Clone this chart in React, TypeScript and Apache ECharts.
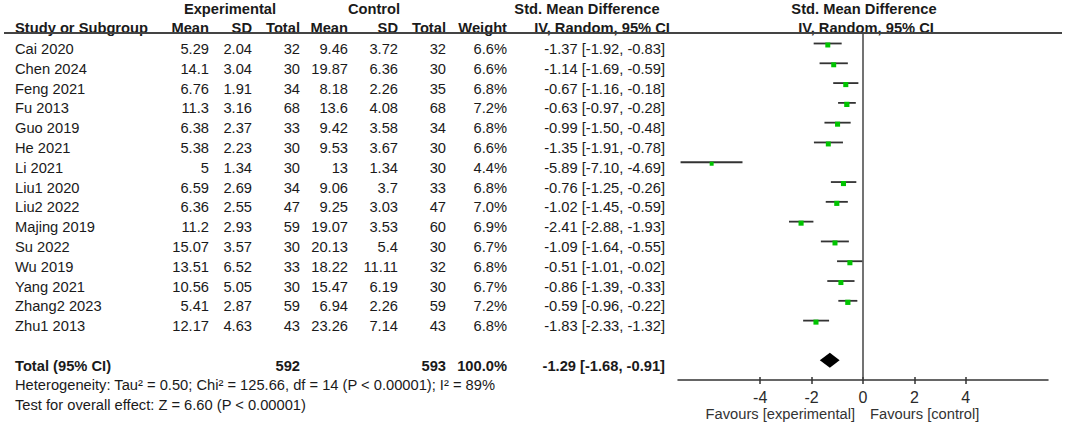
import React, { useEffect, useRef } from "react";
import * as echarts from "echarts";

const studies = ["Cai 2020", "Chen 2024", "Feng 2021", "Fu 2013", "Guo 2019", "He 2021", "Li 2021", "Liu1 2020", "Liu2 2022", "Majing 2019", "Su 2022", "Wu 2019", "Yang 2021", "Zhang2 2023", "Zhu1 2013"];
const expMean = [5.29, 14.1, 6.76, 11.3, 6.38, 5.38, 5, 6.59, 6.36, 11.2, 15.07, 13.51, 10.56, 5.41, 12.17];
const expSD = [2.04, 3.04, 1.91, 3.16, 2.37, 2.23, 1.34, 2.69, 2.55, 2.93, 3.57, 6.52, 5.05, 2.87, 4.63];
const expN = [32, 30, 34, 68, 33, 30, 30, 34, 47, 59, 30, 33, 30, 59, 43];
const ctlMean = [9.46, 19.87, 8.18, 13.6, 9.42, 9.53, 13, 9.06, 9.25, 19.07, 20.13, 18.22, 15.47, 6.94, 23.26];
const ctlSD = [3.72, 6.36, 2.26, 4.08, 3.58, 3.67, 1.34, 3.7, 3.03, 3.53, 5.4, 11.11, 6.19, 2.26, 7.14];
const ctlN = [32, 30, 35, 68, 34, 30, 30, 33, 47, 60, 30, 32, 30, 59, 43];
const weight = [6.6, 6.6, 6.8, 7.2, 6.8, 6.6, 4.4, 6.8, 7.0, 6.9, 6.7, 6.8, 6.7, 7.2, 6.8];
const smd = [-1.37, -1.14, -0.67, -0.63, -0.99, -1.35, -5.89, -0.76, -1.02, -2.41, -1.09, -0.51, -0.86, -0.59, -1.83];
const ciLow = [-1.92, -1.69, -1.16, -0.97, -1.5, -1.91, -7.1, -1.25, -1.45, -2.88, -1.64, -1.01, -1.39, -0.96, -2.33];
const ciHigh = [-0.83, -0.59, -0.18, -0.28, -0.48, -0.78, -4.69, -0.26, -0.59, -1.93, -0.55, -0.02, -0.33, -0.22, -1.32];

const totalExpN = 592;
const totalCtlN = 593;
const totalWeight = 100.0;
const pooled = -1.29;
const pooledLow = -1.68;
const pooledHigh = -0.91;
const totalRow = 16;

const tickValues = [-4, -2, 0, 2, 4];
const heterogeneityText = "Heterogeneity: Tau² = 0.50; Chi² = 125.66, df = 14 (P < 0.00001); I² = 89%";
const overallText = "Test for overall effect: Z = 6.60 (P < 0.00001)";

const FONT = "Liberation Sans, Arial, Helvetica, sans-serif";
const FS = 14.7;
const TXT = "#1a1a1a";

// column right edges (layout)
const COL = { study: 15, eMean: 209, eSD: 252, eN: 300, cMean: 348, cSD: 398, cN: 446, w: 507, ci: 665 };

function fmtCI(e: number, l: number, h: number) {
  return `${e.toFixed(2)} [${l.toFixed(2)}, ${h.toFixed(2)}]`;
}

export default function App() {
  const ref = useRef<HTMLDivElement>(null);
  useEffect(() => {
    document.body.style.margin = "0";
    const chart = echarts.init(ref.current!, null, { renderer: "svg" });

    const txt = (text: string, x: number, y: number, align: string, bold = false, fill = TXT) => ({
      type: "text",
      x,
      y,
      style: { text, fill, font: `${bold ? "bold " : ""}${FS}px ${FONT}`, align, verticalAlign: "middle" },
    });

    const rowData = studies.map((_, i) => [0, i]);

    const option: any = {
      animation: false,
      grid: { left: 678, right: 17, top: 33, bottom: 44 },
      xAxis: [
        {
          type: "value",
          min: -7.2,
          max: 7.2,
          splitLine: { show: false },
          axisLine: { show: true, onZero: false, lineStyle: { color: "#333", width: 1.5 } },
          axisTick: { show: true, customValues: tickValues, length: 4, lineStyle: { color: "#333", width: 1.5 } },
          axisLabel: { customValues: tickValues, color: "#2a2a2a", fontSize: 16, fontFamily: FONT, margin: 9 },
        },
        {
          type: "value",
          position: "bottom",
          min: -7.2,
          max: 7.2,
          splitLine: { show: false },
          axisLine: { show: false, onZero: false },
          axisTick: { show: true, inside: true, customValues: tickValues, length: 3, lineStyle: { color: "#333", width: 1.5 } },
          axisLabel: { show: false },
        },
      ],
      yAxis: { type: "value", min: -0.53, max: 17, inverse: true, show: false },
      graphic: [
        txt("Experimental", 230, 9, "center", true),
        txt("Control", 374, 9, "center", true),
        txt("Std. Mean Difference", 587, 9, "center", true),
        txt("Std. Mean Difference", 864, 9, "center", true),
        txt("Study or Subgroup", COL.study, 28, "left", true),
        txt("Mean", COL.eMean, 28, "right", true),
        txt("SD", COL.eSD, 28, "right", true),
        txt("Total", COL.eN, 28, "right", true),
        txt("Mean", COL.cMean, 28, "right", true),
        txt("SD", COL.cSD, 28, "right", true),
        txt("Total", COL.cN, 28, "right", true),
        txt("Weight", COL.w, 28, "right", true),
        txt("IV, Random, 95% CI", 602, 28, "center", true),
        txt("IV, Random, 95% CI", 866, 28, "center", true),
        {
          type: "line",
          shape: { x1: 4, y1: 33, x2: 1062, y2: 33 },
          style: { stroke: "#444", lineWidth: 2 },
        },
        txt(heterogeneityText, COL.study, 385, "left"),
        txt(overallText, COL.study, 405, "left"),
        txt("Favours [experimental]", 855, 414, "right", false, "#333"),
        txt("Favours [control]", 870, 414, "left", false, "#333"),
      ],
      series: [
        {
          type: "custom",
          name: "table",
          data: rowData,
          clip: false,
          renderItem: (params: any, api: any) => {
            const i = params.dataIndex;
            const y = api.coord([0, api.value(1)])[1] + 5.5;
            return {
              type: "group",
              children: [
                txt(studies[i], COL.study, y, "left"),
                txt(String(expMean[i]), COL.eMean, y, "right"),
                txt(String(expSD[i]), COL.eSD, y, "right"),
                txt(String(expN[i]), COL.eN, y, "right"),
                txt(String(ctlMean[i]), COL.cMean, y, "right"),
                txt(String(ctlSD[i]), COL.cSD, y, "right"),
                txt(String(ctlN[i]), COL.cN, y, "right"),
                txt(weight[i].toFixed(1) + "%", COL.w, y, "right"),
                txt(fmtCI(smd[i], ciLow[i], ciHigh[i]), COL.ci, y, "right"),
              ],
            };
          },
        },
        {
          type: "custom",
          name: "totalRow",
          data: [[0, totalRow]],
          clip: false,
          renderItem: (_params: any, api: any) => {
            const y = api.coord([0, api.value(1)])[1] + 5.5;
            return {
              type: "group",
              children: [
                txt("Total (95% CI)", COL.study, y, "left", true),
                txt(String(totalExpN), COL.eN, y, "right", true),
                txt(String(totalCtlN), COL.cN, y, "right", true),
                txt(totalWeight.toFixed(1) + "%", COL.w, y, "right", true),
                txt(fmtCI(pooled, pooledLow, pooledHigh), COL.ci, y, "right", true),
              ],
            };
          },
        },
        {
          type: "custom",
          name: "ci",
          data: studies.map((_, i) => [smd[i], i, ciLow[i], ciHigh[i], weight[i]]),
          clip: false,
          renderItem: (_params: any, api: any) => {
            const row = api.value(1);
            const lo = api.coord([api.value(2), row]);
            const hi = api.coord([api.value(3), row]);
            const c = api.coord([api.value(0), row]);
            const s = 3.8 + (api.value(4) - 4) * 0.45;
            return {
              type: "group",
              children: [
                {
                  type: "line",
                  shape: { x1: lo[0], y1: lo[1], x2: hi[0], y2: hi[1] },
                  style: { stroke: "#333", lineWidth: 1.8 },
                },
                {
                  type: "rect",
                  shape: { x: c[0] - s / 2, y: c[1] + 1.5 - s / 2, width: s, height: s },
                  style: { fill: "#00c400" },
                },
              ],
            };
          },
          markLine: {
            silent: true,
            symbol: "none",
            label: { show: false },
            lineStyle: { color: "#444", width: 1.5, type: "solid" },
            data: [{ xAxis: 0 }],
          },
        },
        {
          type: "custom",
          name: "diamond",
          data: [[pooled, totalRow, pooledLow, pooledHigh]],
          clip: false,
          renderItem: (_params: any, api: any) => {
            const row = api.value(1);
            const c = api.coord([api.value(0), row]);
            const lo = api.coord([api.value(2), row]);
            const hi = api.coord([api.value(3), row]);
            const h = 7.5;
            return {
              type: "polygon",
              shape: { points: [[lo[0], c[1]], [c[0], c[1] - h], [hi[0], c[1]], [c[0], c[1] + h]] },
              style: { fill: "#000" },
            };
          },
        },
      ],
    };
    chart.setOption(option);
    return () => chart.dispose();
  }, []);
  return <div ref={ref} style={{ width: 1065, height: 424 }} />;
}
